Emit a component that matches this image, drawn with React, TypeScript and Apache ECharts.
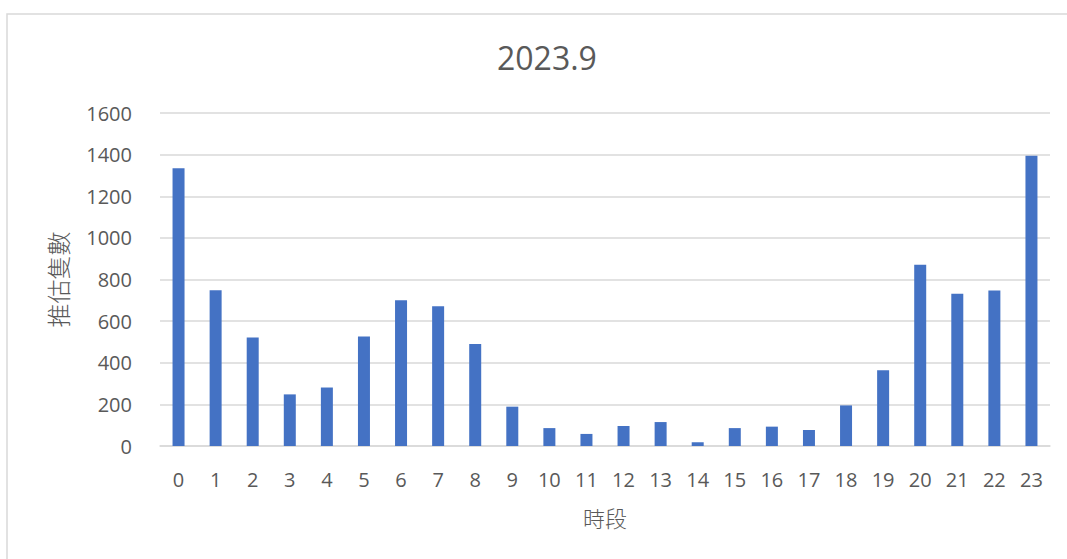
import React, { useEffect, useRef } from "react";
import * as echarts from "echarts";

const categories = ["0","1","2","3","4","5","6","7","8","9","10","11","12","13","14","15","16","17","18","19","20","21","22","23"];
const values = [1335, 748, 521, 248, 281, 526, 700, 671, 490, 189, 86, 58, 96, 115, 18, 86, 93, 77, 195, 364, 871, 732, 747, 1394];
const titleText = "2023.9";
const xName = "時段";
const yName = "推估隻數";

export default function App() {
  const ref = useRef<HTMLDivElement>(null);
  useEffect(() => {
    document.body.style.margin = "0";
    const chart = echarts.init(ref.current!, null, { renderer: "svg" });
    const font = "'Open Sans', 'Liberation Sans', sans-serif";
    const cjk = "'Noto Sans CJK TC', sans-serif";
    chart.setOption({
      animation: false,
      backgroundColor: "#ffffff",
      title: {
        text: titleText,
        left: 492,
        top: 36,
        textStyle: { fontFamily: font, fontSize: 32, fontWeight: "normal", color: "#595959" },
      },
      graphic: [
        {
          type: "rect",
          shape: { x: 7, y: 14, width: 1080, height: 570 },
          style: { fill: "none", stroke: "#d9d9d9", lineWidth: 1.5 },
          silent: true,
        },
      ],
      grid: { left: 160, right: 17, top: 113, bottom: 113 },
      xAxis: {
        type: "category",
        data: categories,
        name: xName,
        nameLocation: "middle",
        nameGap: 60,
        nameTextStyle: { fontFamily: cjk, fontSize: 22, fontWeight: 300, color: "#595959" },
        axisLine: { lineStyle: { color: "#d9d9d9", width: 1.5 } },
        axisTick: { show: false },
        axisLabel: { fontFamily: font, fontSize: 20, color: "#595959", margin: 23 },
      },
      yAxis: {
        type: "value",
        min: 0,
        max: 1600,
        interval: 200,
        name: yName,
        nameLocation: "middle",
        nameRotate: 90,
        nameGap: 91,
        nameTextStyle: { fontFamily: cjk, fontSize: 24, fontWeight: 300, color: "#595959" },
        axisLine: { show: false },
        axisTick: { show: false },
        axisLabel: {
          fontFamily: font,
          fontSize: 20,
          color: "#595959",
          margin: 28,
          formatter: (v: number) => String(v),
        },
        splitLine: { lineStyle: { color: "#d9d9d9", width: 1.5 } },
      },
      series: [
        {
          type: "bar",
          data: values,
          barWidth: 12,
          itemStyle: { color: "#4472c4" },
        },
      ],
    });
    return () => chart.dispose();
  }, []);
  return <div ref={ref} style={{ width: 1067, height: 559 }} />;
}
